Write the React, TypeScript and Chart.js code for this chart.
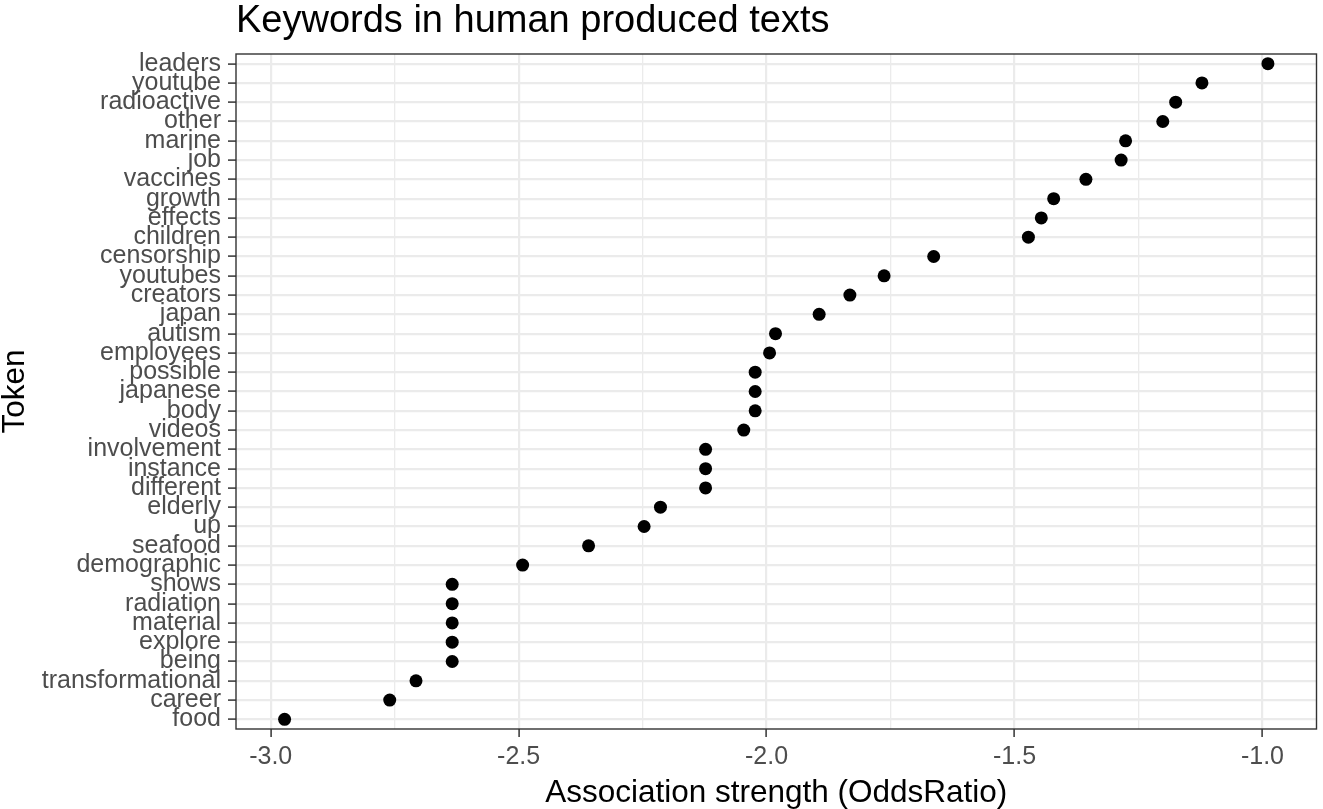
import React, { useEffect, useRef } from "react";
import { Chart, registerables } from "chart.js";

Chart.register(...registerables);

const TITLE = "Keywords in human produced texts";
const X_TITLE = "Association strength (OddsRatio)";
const Y_TITLE = "Token";

const TOKENS = [
  "leaders", "youtube", "radioactive", "other", "marine", "job", "vaccines",
  "growth", "effects", "children", "censorship", "youtubes", "creators", "japan",
  "autism", "employees", "possible", "japanese", "body", "videos", "involvement",
  "instance", "different", "elderly", "up", "seafood", "demographic", "shows",
  "radiation", "material", "explore", "being", "transformational", "career", "food",
];

const ODDS = [
  -0.989, -1.122, -1.175, -1.201, -1.276, -1.285, -1.356,
  -1.421, -1.446, -1.472, -1.663, -1.763, -1.832, -1.894,
  -1.982, -1.994, -2.023, -2.023, -2.023, -2.046, -2.123,
  -2.123, -2.123, -2.214, -2.247, -2.359, -2.492, -2.634,
  -2.634, -2.634, -2.634, -2.634, -2.707, -2.76, -2.972,
];

const X_TICKS_MAJOR = [-3.0, -2.5, -2.0, -1.5, -1.0];
const X_TICKS_MINOR = [-2.75, -2.25, -1.75, -1.25];
const X_MIN = -3.07;
const X_MAX = -0.891;

const FONT = "'Liberation Sans', Arial, Helvetica, sans-serif";
const GRID = "#EBEBEB";
const DARK = "#333333";
const TICK_TEXT = "#4D4D4D";

const isMajor = (v: number) => X_TICKS_MAJOR.some((m) => Math.abs(m - v) < 1e-9);

const panelBorder = {
  id: "panelBorder",
  afterDraw(chart: any) {
    const { ctx, chartArea: a } = chart;
    ctx.save();
    ctx.strokeStyle = DARK;
    ctx.lineWidth = 1.4;
    ctx.strokeRect(a.left, a.top, a.right - a.left, a.bottom - a.top);
    ctx.restore();
  },
};

export default function App() {
  const ref = useRef<HTMLCanvasElement | null>(null);

  useEffect(() => {
    if (!ref.current) return;
    const chart = new Chart(ref.current, {
      type: "scatter",
      data: {
        labels: TOKENS,
        datasets: [
          {
            data: TOKENS.map((t, i) => ({ x: ODDS[i], y: t })) as any,
            backgroundColor: "#000000",
            borderWidth: 0,
            pointRadius: 6.5,
            pointHoverRadius: 6.5,
          },
        ],
      },
      options: {
        responsive: false,
        animation: false,
        devicePixelRatio: 1,
        events: [],
        layout: { padding: { left: 0, right: 5, top: 0, bottom: 0 } },
        plugins: {
          legend: { display: false },
          tooltip: { enabled: false },
          title: {
            display: true,
            text: TITLE,
            align: "start",
            fullSize: false,
            color: "#000000",
            font: { family: FONT, size: 38, weight: "normal", lineHeight: 1 },
            padding: { top: 3, bottom: 13 },
          },
        },
        scales: {
          x: {
            type: "linear",
            position: "bottom",
            min: X_MIN,
            max: X_MAX,
            bounds: "data",
            afterBuildTicks: (scale: any) => {
              scale.ticks = [...X_TICKS_MAJOR, ...X_TICKS_MINOR]
                .sort((a, b) => a - b)
                .map((v) => ({ value: v }));
            },
            afterFit: (scale: any) => {
              scale.height = 80;
            },
            ticks: {
              autoSkip: false,
              maxRotation: 0,
              minRotation: 0,
              includeBounds: false,
              padding: 5,
              color: TICK_TEXT,
              font: { family: FONT, size: 25 },
              callback: (v: any) => (isMajor(Number(v)) ? Number(v).toFixed(1) : ""),
            },
            grid: {
              color: GRID,
              lineWidth: (c: any) => (c.tick && isMajor(c.tick.value) ? 2.2 : 1.3),
              tickColor: (c: any) => (c.tick && isMajor(c.tick.value) ? DARK : "rgba(0,0,0,0)"),
              tickLength: 8,
              tickWidth: 1.5,
              drawTicks: true,
            },
            border: { display: false },
            title: {
              display: true,
              text: X_TITLE,
              color: "#000000",
              font: { family: FONT, size: 31.5, lineHeight: 1 },
              padding: { top: 0, bottom: 0 },
            },
          },
          y: {
            type: "category",
            position: "left",
            offset: true,
            afterFit: (scale: any) => {
              scale.width = 236;
            },
            ticks: {
              autoSkip: false,
              padding: 7,
              color: TICK_TEXT,
              font: { family: FONT, size: 25 },
            },
            grid: {
              color: GRID,
              lineWidth: 2.2,
              tickColor: DARK,
              tickLength: 8,
              tickWidth: 1.5,
              drawTicks: true,
              offset: false,
            },
            border: { display: false },
            title: {
              display: true,
              text: Y_TITLE,
              color: "#000000",
              font: { family: FONT, size: 31.5, lineHeight: 1 },
              padding: { top: 0, bottom: 0 },
            },
          },
        },
      },
      plugins: [panelBorder],
    } as any);
    return () => chart.destroy();
  }, []);

  return (
    <div style={{ position: "absolute", left: 0, top: 0, width: 1323, height: 809, background: "#ffffff" }}>
      <canvas ref={ref} width={1323} height={809} style={{ display: "block", width: 1323, height: 809 }} />
    </div>
  );
}
